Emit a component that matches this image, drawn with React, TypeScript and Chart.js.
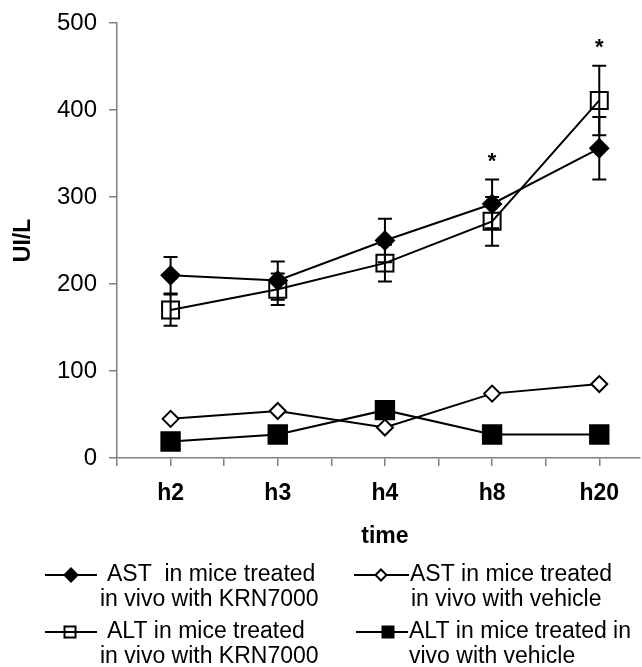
import React, { useEffect, useRef } from "react";
import { Chart, registerables } from "chart.js";

Chart.register(...registerables);

const categories = ["h2", "h3", "h4", "h8", "h20"];
const astKrn = [210, 204, 250, 292, 356];
const astKrnErr = [21, 22, 25, 28, 36];
const altKrn = [170, 194, 224, 272, 411];
const altKrnErr = [18, 18, 21, 28, 40];
const astVeh = [45, 54, 35, 74, 85];
const altVeh = [19, 27, 55, 27, 27];
const significance = ["", "", "", "*", "*"];
const yTicks = [0, 100, 200, 300, 400, 500];

const legendTexts = [
  ["AST  in mice treated", "in vivo with KRN7000"],
  ["ALT in mice treated", "in vivo with KRN7000"],
  ["AST in mice treated", "in vivo with vehicle"],
  ["ALT in mice treated in", "vivo with vehicle"],
];

const FONT = '"Liberation Sans", Arial, Helvetica, sans-serif';

const toXY = (arr: number[]) => arr.map((y, i) => ({ x: i, y }));

function drawMarker(ctx: CanvasRenderingContext2D, style: string, x: number, y: number, r: number, fill: string | null) {
  ctx.beginPath();
  if (style === "diamond") {
    ctx.moveTo(x - r, y);
    ctx.lineTo(x, y - r);
    ctx.lineTo(x + r, y);
    ctx.lineTo(x, y + r);
    ctx.closePath();
  } else {
    ctx.rect(x - r, y - r, 2 * r, 2 * r);
  }
  if (fill) {
    ctx.fillStyle = fill;
    ctx.fill();
  }
  ctx.lineWidth = 2;
  ctx.strokeStyle = "#000";
  ctx.stroke();
}

const errorBarPlugin = {
  id: "errorBars",
  beforeDatasetsDraw(chart: any) {
    const { ctx } = chart;
    const xs = chart.scales.x;
    const ys = chart.scales.y;
    const sets = [
      [astKrn, astKrnErr],
      [altKrn, altKrnErr],
    ];
    ctx.save();
    ctx.strokeStyle = "#000";
    ctx.lineWidth = 2;
    sets.forEach(([vals, errs]) => {
      vals.forEach((v, i) => {
        const px = xs.getPixelForValue(i);
        const top = ys.getPixelForValue(v + errs[i]);
        const bot = ys.getPixelForValue(v - errs[i]);
        ctx.beginPath();
        ctx.moveTo(px, top);
        ctx.lineTo(px, bot);
        ctx.moveTo(px - 7, top);
        ctx.lineTo(px + 7, top);
        ctx.moveTo(px - 7, bot);
        ctx.lineTo(px + 7, bot);
        ctx.stroke();
      });
    });
    ctx.restore();
  },
};

const extrasPlugin = {
  id: "extras",
  afterDraw(chart: any) {
    const { ctx } = chart;
    const xs = chart.scales.x;
    const ys = chart.scales.y;
    ctx.save();
    // significance asterisks
    ctx.fillStyle = "#000";
    ctx.font = `bold 22px ${FONT}`;
    ctx.textAlign = "center";
    ctx.textBaseline = "alphabetic";
    significance.forEach((s, i) => {
      if (!s) return;
      const top = Math.max(astKrn[i] + astKrnErr[i], altKrn[i] + altKrnErr[i]);
      const cy = ys.getPixelForValue(top) - 20;
      ctx.fillText(s, xs.getPixelForValue(i), cy + 8);
    });
    // x-axis title
    ctx.font = `bold 23px ${FONT}`;
    ctx.fillText("time", xs.getPixelForValue(2), 543);

    // legend
    const items = [
      { style: "diamond", fill: "#000", r: 6.5, x1: 45, x2: 97, mx: 71, y: 575, tx: [107, 100], by: [581, 606] },
      { style: "square", fill: null, r: 5.5, x1: 45, x2: 97, mx: 70, y: 632, tx: [107, 100], by: [638, 663] },
      { style: "diamond", fill: "#fff", r: 5.5, x1: 354, x2: 409, mx: 381, y: 575, tx: [410, 411], by: [581, 606] },
      { style: "square", fill: "#000", r: 5.5, x1: 356, x2: 408, mx: 388, y: 632, tx: [409, 409], by: [638, 663] },
    ];
    items.forEach((it, k) => {
      ctx.beginPath();
      ctx.strokeStyle = "#000";
      ctx.lineWidth = 2;
      ctx.moveTo(it.x1, it.y);
      ctx.lineTo(it.x2, it.y);
      ctx.stroke();
      drawMarker(ctx, it.style, it.mx, it.y, it.r, it.fill);
      ctx.fillStyle = "#000";
      ctx.font = `23px ${FONT}`;
      ctx.textAlign = "left";
      ctx.textBaseline = "alphabetic";
      legendTexts[k].forEach((line, j) => {
        ctx.fillText(line, it.tx[j], it.by[j]);
      });
    });
    ctx.restore();
  },
};

export default function App() {
  const canvasRef = useRef<HTMLCanvasElement | null>(null);

  useEffect(() => {
    if (!canvasRef.current) return;
    const common = {
      borderColor: "#000",
      borderWidth: 2,
      pointBorderColor: "#000",
      pointBorderWidth: 2,
      tension: 0,
      fill: false,
    };
    const chart = new Chart(canvasRef.current, {
      type: "line",
      data: {
        datasets: [
          { ...common, label: "AST in mice treated in vivo with KRN7000", data: toXY(astKrn), pointStyle: "rectRot", pointRadius: 9, pointBackgroundColor: "#000" },
          { ...common, label: "ALT in mice treated in vivo with KRN7000", data: toXY(altKrn), pointStyle: "rect", pointRadius: 12, pointBackgroundColor: "rgba(0,0,0,0)" },
          { ...common, label: "AST in mice treated in vivo with vehicle", data: toXY(astVeh), pointStyle: "rectRot", pointRadius: 8, pointBackgroundColor: "#fff" },
          { ...common, label: "ALT in mice treated in vivo with vehicle", data: toXY(altVeh), pointStyle: "rect", pointRadius: 13, pointBackgroundColor: "#000" },
        ],
      },
      options: {
        responsive: false,
        animation: false,
        layout: { autoPadding: false, padding: { top: 23, right: 2, left: 0, bottom: 0 } },
        plugins: { legend: { display: false }, tooltip: { enabled: false } },
        scales: {
          x: {
            type: "linear",
            min: -0.5,
            max: 4.38,
            afterFit: (axis: any) => {
              axis.height = 209;
              axis.paddingLeft = 0;
              axis.paddingRight = 0;
            },
            ticks: {
              stepSize: 0.5,
              includeBounds: false,
              autoSkip: false,
              maxRotation: 0,
              color: "#000",
              padding: 14,
              font: { family: FONT, size: 23, weight: "bold" },
              callback: (v: any) => {
                const n = Number(v);
                const r = Math.round(n);
                return Math.abs(n - r) < 1e-6 && r >= 0 && r < categories.length ? categories[r] : "";
              },
            },
            grid: { display: true, drawOnChartArea: false, drawTicks: true, tickLength: 8, color: "#808080", lineWidth: 1.5 },
            border: { display: true, color: "#808080", width: 1.5 },
          },
          y: {
            type: "linear",
            min: 0,
            max: 500,
            afterFit: (axis: any) => {
              axis.width = 117;
              axis.paddingTop = 0;
              axis.paddingBottom = 0;
            },
            afterBuildTicks: (axis: any) => {
              axis.ticks = yTicks.map((v) => ({ value: v }));
            },
            ticks: { color: "#000", padding: 12, font: { family: FONT, size: 24 } },
            title: {
              display: true,
              text: "UI/L",
              color: "#000",
              font: { family: FONT, size: 23, weight: "bold" },
              padding: { top: 10, bottom: 0 },
            },
            grid: { display: true, drawOnChartArea: false, drawTicks: true, tickLength: 8, color: "#808080", lineWidth: 1.5 },
            border: { display: true, color: "#808080", width: 1.5 },
          },
        },
      },
      plugins: [errorBarPlugin, extrasPlugin],
    } as any);
    return () => chart.destroy();
  }, []);

  return (
    <div style={{ position: "absolute", left: 0, top: 0, width: 642, height: 667, background: "#fff" }}>
      <canvas ref={canvasRef} width={642} height={667} style={{ display: "block" }} />
    </div>
  );
}
